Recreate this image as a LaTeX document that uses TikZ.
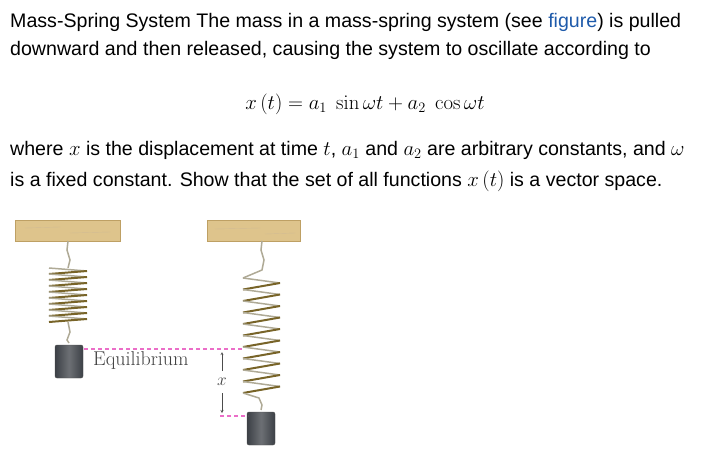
\documentclass[tikz,border=0pt]{standalone}
\usepackage[no-math]{fontspec}
\setmainfont{Liberation Sans}
\usepackage{amsmath}
\definecolor{wood}{RGB}{222,196,140}
\definecolor{woodd}{RGB}{190,160,100}
\definecolor{coil}{RGB}{120,100,40}
\definecolor{coilb}{RGB}{175,170,150}
\definecolor{mass}{RGB}{60,64,70}
\definecolor{lnk}{RGB}{30,90,170}
\definecolor{pinkd}{RGB}{235,110,200}
\tikzset{
 txt/.style={anchor=west,font=\fontsize{19.6}{23}\selectfont,inner sep=0pt},
 beam/.style={fill=wood,draw=woodd,line width=0.5pt},
 massbox/.style={left color=mass,right color=mass,middle color=mass!75,draw=black!70,rounded corners=2pt},
 eq/.style={dash pattern=on 4pt off 3pt,draw=pinkd,line width=1.3pt},
 lbl/.style={font=\fontfamily{lmr}\fontsize{20}{24}\selectfont,text=black!75,inner sep=0pt}
}
\begin{document}
\begin{tikzpicture}[x=1pt,y=-1pt]
\useasboundingbox (0,0) rectangle (716,453);
\node[txt] (l1) at (10,22) {Mass-Spring System The mass in a mass-spring system (see \textcolor{lnk}{figure}) is pulled};
\node[txt] (l2) at (10,50) {downward and then released, causing the system to oscillate according to};
\node[inner sep=0pt,font=\fontsize{20.5}{24}\selectfont] (f) at (365,104) {$x\left(t\right)=a_1\ \sin\omega t+a_2\ \cos\omega t$};
\node[txt] (l3) at (10,150) {where $x$ is the displacement at time $t$, $a_1$ and $a_2$ are arbitrary constants, and $\omega$};
\node[txt] (l4) at (10,181) {is a fixed constant. Show that the set of all functions $x\left(t\right)$ is a vector space.};
% beams
\fill[beam] (15,220) rectangle (120,241);
\fill[beam] (207,220) rectangle (300,241);
\draw[woodd!70,line width=0.4pt] (25,228)--(60,227) (70,233)--(110,232) (215,229)--(260,228) (265,234)--(295,233);
% left spring
\draw[coilb,line width=1.5pt] (68,241)--(67,250)--(70,260)--(68,268);
\foreach \i in {0,...,8}{
  \draw[coilb,line width=1.5pt] (49,{268+6*\i}) -- (87,{271+6*\i});
  \draw[coil,line width=2pt] (87,{271+6*\i}) -- (49,{274+6*\i});
}
\draw[coilb,line width=1.5pt] (68,322)--(70,332)--(67,340)--(69,343);
\draw[black!70,line width=1.6pt] (64,346) arc (180:0:5);
\draw[massbox] (55,345) rectangle (83,378);
% right spring
\draw[coilb,line width=1.5pt] (262,241)--(261,250) -- (264,260)--(262,270)--(243,278);
\foreach \i in {0,...,9}{
  \draw[coilb,line width=1.5pt] (243,{278+11.5*\i}) -- (280,{283+11.5*\i});
  \draw[coil,line width=2pt] (280,{283+11.5*\i}) -- (243,{289.5+11.5*\i});
}
\draw[coilb,line width=1.5pt] (243,393)--(259,398)--(262,405)--(261,410);
\draw[black!70,line width=1.6pt] (256,413) arc (180:0:5);
\draw[massbox] (247,412) rectangle (275,445);
% equilibrium
\coordinate (e1) at (84,349); \coordinate (e2) at (242,349);
\draw[eq] (e1)--(e2);
\node[lbl,anchor=west] (eqt) at (93,361) {Equilibrium};
\coordinate (b1) at (220,416); \coordinate (b2) at (248,416);
\draw[eq] (b1)--(b2);
\node[lbl,font=\fontsize{19}{22}\selectfont] (xl) at (222,382) {$x$};
\coordinate (a1) at (222,352); \coordinate (a2) at (222,413);
\draw[->,>=stealth,black!70] (222,371) -- (a1);
\draw[->,>=stealth,black!70] (222,393) -- (a2);
\end{tikzpicture}
\end{document}
